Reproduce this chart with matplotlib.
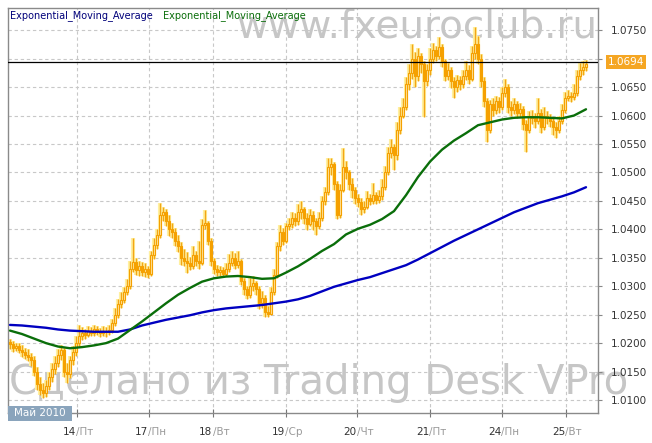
import numpy as np
import matplotlib
matplotlib.use('Agg')
import matplotlib.pyplot as plt
import matplotlib.transforms as mtransforms
from matplotlib.patches import Rectangle

# ---------------- data (hourly bars, May 2010) ----------------
opens = [
 1.0202,1.0198,1.0192,1.0195,1.0188,1.0185,1.0180,1.0176,1.0170,1.0150,
 1.0128,1.0118,1.0112,1.0125,1.0140,1.0155,1.0165,1.0180,1.0188,1.0150,
 1.0145,1.0170,1.0185,1.0200,1.0212,1.0218,1.0215,1.0222,1.0218,1.0224,
 1.0220,1.0217,1.0222,1.0219,1.0223,1.0235,1.0250,1.0268,1.0275,1.0290,
 1.0300,1.0330,1.0342,1.0328,1.0335,1.0325,1.0330,1.0322,1.0355,1.0372,
 1.0390,1.0425,1.0430,1.0415,1.0400,1.0395,1.0380,1.0370,1.0350,1.0345,
 1.0340,1.0335,1.0355,1.0345,1.0340,1.0408,1.0412,1.0380,1.0345,1.0330,
 1.0325,1.0328,1.0322,1.0330,1.0340,1.0350,1.0338,1.0345,1.0310,1.0295,
 1.0285,1.0300,1.0305,1.0295,1.0270,1.0280,1.0255,1.0252,1.0290,1.0320,
 1.0370,1.0395,1.0380,1.0405,1.0410,1.0420,1.0415,1.0430,1.0435,1.0420,
 1.0410,1.0425,1.0415,1.0405,1.0420,1.0450,1.0465,1.0510,1.0515,1.0480,
 1.0425,1.0470,1.0510,1.0500,1.0480,1.0470,1.0455,1.0448,1.0435,1.0440,
 1.0455,1.0450,1.0460,1.0452,1.0458,1.0475,1.0500,1.0535,1.0545,1.0530,
 1.0575,1.0600,1.0615,1.0655,1.0675,1.0700,1.0670,1.0705,1.0690,1.0660,
 1.0680,1.0700,1.0715,1.0705,1.0720,1.0695,1.0670,1.0680,1.0660,1.0650,
 1.0662,1.0655,1.0670,1.0680,1.0665,1.0710,1.0725,1.0700,1.0660,1.0625,
 1.0575,1.0620,1.0610,1.0625,1.0615,1.0640,1.0650,1.0615,1.0610,1.0620,
 1.0605,1.0612,1.0585,1.0575,1.0600,1.0595,1.0590,1.0605,1.0580,1.0600,
 1.0595,1.0590,1.0580,1.0575,1.0590,1.0610,1.0630,1.0635,1.0632,1.0640,
 1.0670,1.0680,1.0685,
]
closes = [
 1.0198,1.0192,1.0195,1.0188,1.0185,1.0180,1.0176,1.0170,1.0150,1.0128,
 1.0118,1.0112,1.0125,1.0140,1.0155,1.0165,1.0180,1.0188,1.0150,1.0145,
 1.0170,1.0185,1.0200,1.0212,1.0218,1.0215,1.0222,1.0218,1.0224,1.0220,
 1.0217,1.0222,1.0219,1.0223,1.0235,1.0250,1.0268,1.0275,1.0290,1.0300,
 1.0330,1.0342,1.0328,1.0335,1.0325,1.0330,1.0322,1.0355,1.0372,1.0390,
 1.0425,1.0430,1.0415,1.0400,1.0395,1.0380,1.0370,1.0350,1.0345,1.0340,
 1.0335,1.0355,1.0345,1.0340,1.0408,1.0412,1.0380,1.0345,1.0330,1.0325,
 1.0328,1.0322,1.0330,1.0340,1.0350,1.0338,1.0345,1.0310,1.0295,1.0285,
 1.0300,1.0305,1.0295,1.0270,1.0280,1.0255,1.0252,1.0290,1.0320,1.0370,
 1.0395,1.0380,1.0405,1.0410,1.0420,1.0415,1.0430,1.0435,1.0420,1.0410,
 1.0425,1.0415,1.0405,1.0420,1.0450,1.0465,1.0510,1.0515,1.0480,1.0425,
 1.0470,1.0510,1.0500,1.0480,1.0470,1.0455,1.0448,1.0435,1.0440,1.0455,
 1.0450,1.0460,1.0452,1.0458,1.0475,1.0500,1.0535,1.0545,1.0530,1.0575,
 1.0600,1.0615,1.0655,1.0675,1.0700,1.0670,1.0705,1.0690,1.0660,1.0680,
 1.0700,1.0715,1.0705,1.0720,1.0695,1.0670,1.0680,1.0660,1.0650,1.0662,
 1.0655,1.0670,1.0680,1.0665,1.0710,1.0725,1.0700,1.0660,1.0625,1.0575,
 1.0620,1.0610,1.0625,1.0615,1.0640,1.0650,1.0615,1.0610,1.0620,1.0605,
 1.0612,1.0585,1.0575,1.0600,1.0595,1.0590,1.0605,1.0580,1.0600,1.0595,
 1.0590,1.0580,1.0575,1.0590,1.0610,1.0630,1.0635,1.0632,1.0640,1.0670,
 1.0680,1.0685,1.0690,
]
highs = [
 1.0208,1.0203,1.0201,1.0200,1.0196,1.0192,1.0190,1.0182,1.0178,1.0158,
 1.0140,1.0130,1.0135,1.0150,1.0165,1.0178,1.0190,1.0196,1.0192,1.0165,
 1.0178,1.0195,1.0212,1.0232,1.0228,1.0225,1.0230,1.0228,1.0232,1.0230,
 1.0226,1.0230,1.0228,1.0232,1.0242,1.0262,1.0278,1.0290,1.0298,1.0312,
 1.0345,1.0385,1.0350,1.0345,1.0342,1.0340,1.0336,1.0362,1.0385,1.0400,
 1.0446,1.0440,1.0436,1.0425,1.0412,1.0402,1.0390,1.0378,1.0365,1.0360,
 1.0352,1.0370,1.0362,1.0380,1.0418,1.0434,1.0415,1.0385,1.0350,1.0338,
 1.0336,1.0334,1.0340,1.0356,1.0362,1.0358,1.0362,1.0348,1.0315,1.0300,
 1.0315,1.0318,1.0310,1.0300,1.0292,1.0285,1.0265,1.0298,1.0330,1.0378,
 1.0408,1.0402,1.0412,1.0420,1.0430,1.0428,1.0445,1.0450,1.0440,1.0428,
 1.0436,1.0432,1.0420,1.0430,1.0458,1.0475,1.0525,1.0525,1.0518,1.0485,
 1.0480,1.0543,1.0520,1.0505,1.0490,1.0475,1.0462,1.0455,1.0450,1.0468,
 1.0462,1.0482,1.0466,1.0470,1.0488,1.0512,1.0545,1.0558,1.0550,1.0588,
 1.0615,1.0630,1.0668,1.0690,1.0725,1.0712,1.0718,1.0710,1.0695,1.0690,
 1.0718,1.0728,1.0722,1.0738,1.0725,1.0700,1.0692,1.0685,1.0668,1.0672,
 1.0670,1.0680,1.0695,1.0688,1.0722,1.0755,1.0740,1.0708,1.0668,1.0630,
 1.0628,1.0630,1.0635,1.0632,1.0650,1.0665,1.0655,1.0625,1.0630,1.0625,
 1.0622,1.0616,1.0592,1.0608,1.0610,1.0605,1.0630,1.0612,1.0615,1.0608,
 1.0602,1.0598,1.0588,1.0600,1.0620,1.0642,1.0645,1.0642,1.0655,1.0680,
 1.0692,1.0695,1.0698,
]
lows = [
 1.0190,1.0185,1.0186,1.0182,1.0176,1.0172,1.0168,1.0160,1.0142,1.0118,
 1.0108,1.0104,1.0106,1.0118,1.0132,1.0145,1.0158,1.0170,1.0140,1.0130,
 1.0138,1.0162,1.0178,1.0195,1.0205,1.0208,1.0210,1.0212,1.0212,1.0214,
 1.0210,1.0212,1.0210,1.0214,1.0218,1.0230,1.0245,1.0262,1.0270,1.0285,
 1.0295,1.0325,1.0320,1.0318,1.0318,1.0316,1.0314,1.0318,1.0348,1.0365,
 1.0385,1.0415,1.0405,1.0388,1.0385,1.0370,1.0360,1.0338,1.0335,1.0323,
 1.0328,1.0330,1.0336,1.0330,1.0338,1.0400,1.0372,1.0335,1.0322,1.0318,
 1.0318,1.0316,1.0318,1.0325,1.0335,1.0330,1.0332,1.0302,1.0285,1.0278,
 1.0280,1.0292,1.0285,1.0260,1.0262,1.0246,1.0246,1.0250,1.0285,1.0315,
 1.0362,1.0372,1.0376,1.0398,1.0402,1.0405,1.0408,1.0418,1.0410,1.0398,
 1.0405,1.0398,1.0390,1.0400,1.0415,1.0442,1.0460,1.0495,1.0470,1.0418,
 1.0420,1.0465,1.0488,1.0470,1.0455,1.0445,1.0440,1.0425,1.0428,1.0435,
 1.0442,1.0445,1.0445,1.0446,1.0452,1.0470,1.0495,1.0525,1.0505,1.0522,
 1.0568,1.0595,1.0610,1.0645,1.0665,1.0650,1.0660,1.0675,1.0597,1.0652,
 1.0672,1.0692,1.0695,1.0700,1.0685,1.0660,1.0662,1.0648,1.0630,1.0642,
 1.0645,1.0648,1.0662,1.0655,1.0660,1.0700,1.0690,1.0650,1.0615,1.0553,
 1.0570,1.0600,1.0602,1.0605,1.0610,1.0632,1.0605,1.0600,1.0602,1.0595,
 1.0598,1.0575,1.0536,1.0570,1.0585,1.0578,1.0585,1.0570,1.0575,1.0585,
 1.0580,1.0565,1.0560,1.0570,1.0585,1.0605,1.0625,1.0624,1.0628,1.0635,
 1.0662,1.0672,1.0678,
]

# EMA values, read every 4th bar
ema_step = 4
ema_blue = [
 1.0232,1.0231,1.0229,1.0227,1.0224,1.0222,1.0221,1.0220,1.0220,1.0220,
 1.0224,1.0231,1.0236,1.0241,1.0245,1.0249,1.0254,1.0258,1.0261,1.0263,
 1.0265,1.0267,1.0270,1.0273,1.0277,1.0283,1.0291,1.0299,1.0305,1.0311,
 1.0316,1.0323,1.0330,1.0337,1.0347,1.0358,1.0369,1.0380,1.0390,1.0400,
 1.0410,1.0420,1.0430,1.0438,1.0446,1.0452,1.0458,1.0465,1.0474,
]
ema_green = [
 1.0222,1.0216,1.0208,1.0200,1.0194,1.0191,1.0193,1.0196,1.0200,1.0208,
 1.0223,1.0238,1.0254,1.0270,1.0285,1.0297,1.0308,1.0314,1.0317,1.0318,
 1.0316,1.0313,1.0314,1.0324,1.0335,1.0348,1.0362,1.0374,1.0391,1.0401,
 1.0408,1.0418,1.0432,1.0460,1.0492,1.0519,1.0540,1.0556,1.0569,1.0583,
 1.0588,1.0593,1.0596,1.0597,1.0597,1.0596,1.0595,1.0600,1.0611,
]

last_price = 1.0694
y_ticks = [1.0100, 1.0150, 1.0200, 1.0250, 1.0300, 1.0350, 1.0400, 1.0450,
           1.0500, 1.0550, 1.0600, 1.0650, 1.0700, 1.0750]
hidden_tick = 1.0700   # covered by the last-price label
day_pos = [22.3, 46.3, 67.7, 92.0, 115.7, 140.0, 164.0, 185.3]
day_num = ['14', '17', '18', '19', '20', '21', '24', '25']
day_wd = ['Пт', 'Пн', 'Вт', 'Ср', 'Чт', 'Пт', 'Пн', 'Вт']
month_label = 'Май 2010'
legend_names = ['Exponential_Moving_Average', 'Exponential_Moving_Average']

# ---------------- figure ----------------
W, H = 652, 443
fig = plt.figure(figsize=(W / 100, H / 100), dpi=100)
fig.patch.set_facecolor('white')
ax = fig.add_axes([8 / W, (H - 413) / H, 590 / W, 405 / H])
ax.set_facecolor('none')

O = np.array(opens); C = np.array(closes); Hh = np.array(highs); L = np.array(lows)
x = np.arange(len(C))

# watermarks (behind everything)
wm_col = '#c6c6c6'
fig.text(597 / W, (H - 37) / H, 'www.fxeuroclub.ru', ha='right', va='baseline',
         fontsize=28, color=wm_col, zorder=-1)
fig.text(9 / W, (H - 394) / H, 'Сделано из Trading Desk VPro', ha='left', va='baseline',
         fontsize=29, color=wm_col, zorder=-1)

# candles
ax.vlines(x, L, Hh, colors='#fff0a0', linewidth=3.0, zorder=2)
ax.vlines(x, L, Hh, colors='#f2a516', linewidth=1.0, zorder=3)
up = C >= O
body_lo = np.minimum(O, C)
body_h = np.maximum(np.abs(C - O), 0.00006)
ax.bar(x[up], body_h[up], bottom=body_lo[up], width=0.85, color='#ffe39a',
       edgecolor='#f5a000', linewidth=0.8, zorder=4)
ax.bar(x[~up], body_h[~up], bottom=body_lo[~up], width=0.85, color='#f7a200',
       edgecolor='#f5a000', linewidth=0.8, zorder=4)

# EMAs
ema_x = np.arange(len(ema_blue)) * ema_step
ax.plot(ema_x, ema_blue, color='#0000c0', lw=1.7, zorder=5, solid_capstyle='round')
ax.plot(ema_x, ema_green, color='#0a6e0a', lw=1.7, zorder=5, solid_capstyle='round')

ax.axhline(last_price, color='black', lw=0.9, zorder=6)

ax.set_xlim(-0.67, 196)
ax.set_ylim(1.00772, 1.0789)

# grid
ax.set_yticks(y_ticks)
ax.set_xticks(day_pos)
ax.grid(True, color='#c8c8c8', linestyle=(0, (3, 2.5)), linewidth=0.8, zorder=0)
ax.set_axisbelow(True)

ax.yaxis.tick_right()
ax.set_yticklabels(['' if abs(t - hidden_tick) < 1e-9 else f'{t:.4f}' for t in y_ticks])
ax.tick_params(axis='y', length=3, color='#888888', labelsize=7.5,
               labelcolor='#333333', pad=6)
ax.set_xticklabels([])
ax.tick_params(axis='x', direction='inout', length=6, color='#777777')

for s in ax.spines.values():
    s.set_color('#8a8a8a')
    s.set_linewidth(1.0)

# x labels with two colors
trans = mtransforms.blended_transform_factory(ax.transData, ax.transAxes)
ylab = (413 - 432) / 405
for p, n, w in zip(day_pos, day_num, day_wd):
    ax.text(p - 0.2, ylab, n, transform=trans, ha='right', va='center',
            fontsize=7.5, color='#333333')
    ax.text(p - 0.2, ylab, '/' + w, transform=trans, ha='left', va='center',
            fontsize=7.5, color='#9a9a9a')

# last price label
trans_y = mtransforms.blended_transform_factory(ax.transAxes, ax.transData)
ax.text(1 + 10 / 590, last_price, f'{last_price:.4f}', transform=trans_y,
        ha='left', va='center', fontsize=7.5, color='white', zorder=10,
        bbox=dict(boxstyle='square,pad=0.2', fc='#f5a623', ec='none'))

# legend texts
fig.text(10 / W, (H - 16) / H, legend_names[0], color='#00007a', fontsize=7,
         ha='left', va='center')
fig.text(163 / W, (H - 16) / H, legend_names[1], color='#0a6e0a', fontsize=7,
         ha='left', va='center')

# month box
fig.patches.append(Rectangle((8 / W, (H - 421) / H), 64 / W, 15 / H,
                             transform=fig.transFigure, fc='#8aa4bc', ec='none', zorder=5))
fig.text(40 / W, (H - 413.5) / H, month_label, color='white', fontsize=7.5,
         ha='center', va='center', zorder=6)

fig.savefig('out.png', dpi=100)
